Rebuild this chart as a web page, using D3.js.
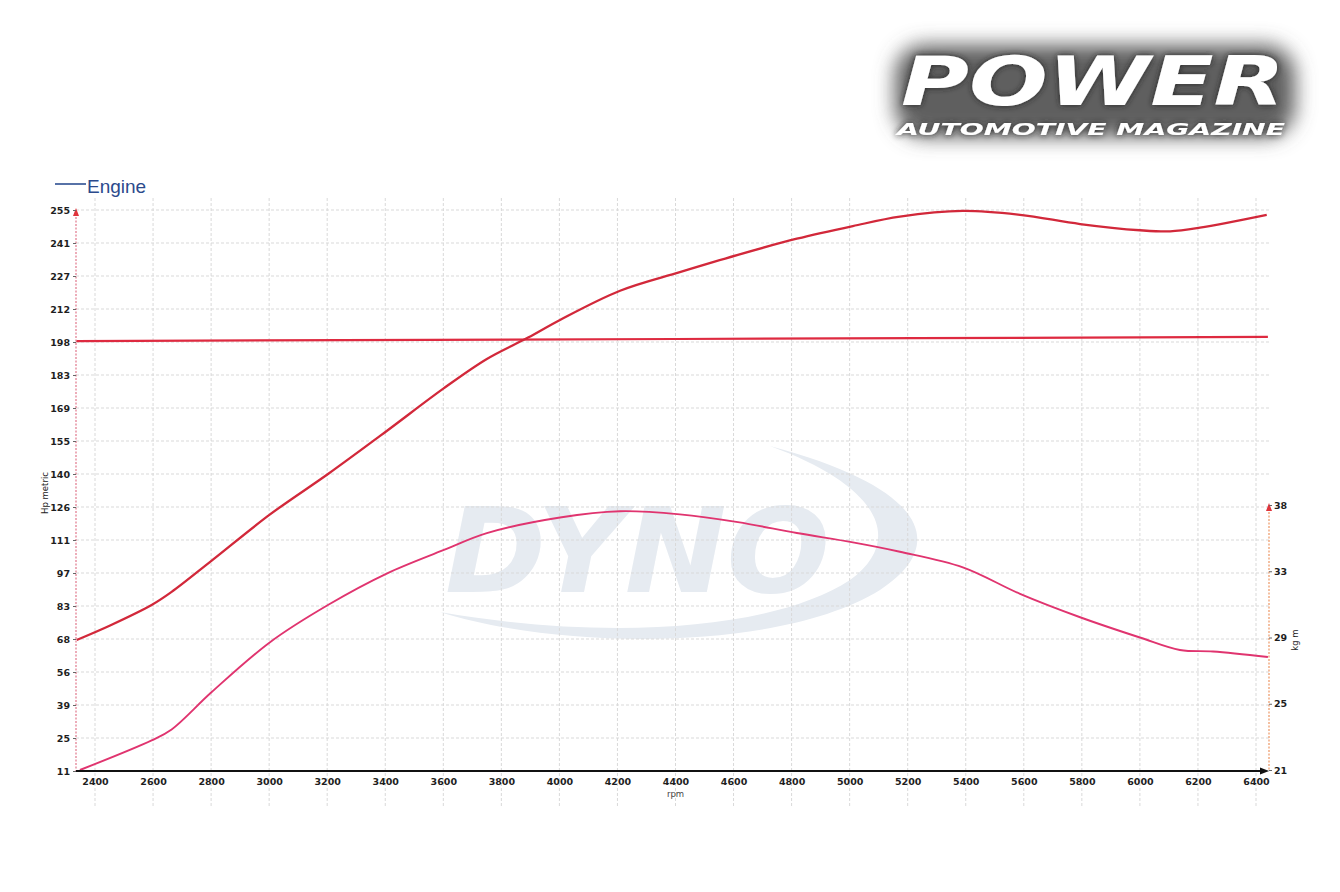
<!DOCTYPE html>
<html><head><meta charset="utf-8">
<script src="https://cdn.jsdelivr.net/npm/d3@7"></script>
<style>body{margin:0;background:#fff}svg{display:block}</style>
</head><body>
<svg id="c" width="1340" height="892"></svg>
<script>
// ---------------- DATA ----------------
const rpmTicks = [2400,2600,2800,3000,3200,3400,3600,3800,4000,4200,4400,4600,4800,5000,5200,5400,5600,5800,6000,6200,6400];
const hpTickLabels = ["11","25","39","56","68","83","97","111","126","140","155","169","183","198","212","227","241","255"];
const kgmTickLabels = ["21","25","29","33","38"];

const powerRpm = [2337,2452,2595,2664,2802,3003,3204,3405,3600,3750,3892,4002,4209,4415,4615,4818,5011,5173,5390,5587,5794,6000,6104,6207,6437];
const powerHp  = [68.0,74.3,83.2,88.9,102.5,122.6,140.3,158.9,177.3,190.2,199.5,207.2,219.9,228.0,235.5,242.5,248.0,252.1,254.6,252.9,248.9,246.2,245.7,247.3,252.9];

const torqueRpm = [2348,2595,2664,2802,3003,3204,3405,3600,3750,4002,4209,4415,4615,4818,5011,5173,5390,5587,5794,6000,6138,6252,6441];
const torqueKgm = [21.0,22.9,23.6,26.0,29.2,31.6,33.6,35.1,36.2,37.2,37.6,37.4,36.9,36.2,35.6,35.0,34.0,32.3,30.8,29.5,28.7,28.6,28.25];

const refRpm = [2335,4400,6441];
const refHp  = [198.0,198.9,199.8];

const legendLabel = "Engine";

// ---------------- LAYOUT ----------------
const svg = d3.select("#c");
const L = 76, R = 1269, T = 210, B = 771, RT = 505;

const x = d3.scaleLinear().domain([2400, 6400]).range([95, 1256]);
const yHp = d3.scaleLinear().domain([11, 255]).range([B, T]);
const yKgm = d3.scaleLinear().domain([21, 38]).range([B - 1, RT]);
const yHpTicks = d3.scalePoint().domain(hpTickLabels).range([B, T]);
const yKgmTicks = d3.scalePoint().domain(kgmTickLabels).range([B - 1, RT]);

const defs = svg.append("defs");
const blur = defs.append("filter").attr("id","blur").attr("x","-30%").attr("y","-60%").attr("width","160%").attr("height","220%");
blur.append("feGaussianBlur").attr("stdDeviation", 10);
const sh = defs.append("filter").attr("id","shadow").attr("x","-10%").attr("y","-40%").attr("width","120%").attr("height","180%");
sh.append("feGaussianBlur").attr("in","SourceAlpha").attr("stdDeviation",3).attr("result","b");
sh.append("feFlood").attr("flood-color","#222").attr("result","f");
sh.append("feComposite").attr("in","f").attr("in2","b").attr("operator","in").attr("result","s");
const mg = sh.append("feMerge");
mg.append("feMergeNode").attr("in","s");
mg.append("feMergeNode").attr("in","SourceGraphic");

// ---------------- LOGO ----------------
const logo = svg.append("g");
logo.append("rect").attr("x", 895).attr("y", 45).attr("width", 400).attr("height", 92).attr("rx", 30)
  .attr("fill", "#5e5e5e").attr("filter", "url(#blur)");
logo.append("text").attr("x", 901).attr("y", 105).attr("textLength", 384).attr("lengthAdjust","spacingAndGlyphs")
  .attr("font-family", "DejaVu Sans").attr("font-weight", "bold").attr("font-style", "italic")
  .attr("font-size", 67).attr("fill", "#ffffff").attr("filter","url(#shadow)").text("POWER");
logo.append("text").attr("x", 897).attr("y", 135).attr("textLength", 388).attr("lengthAdjust","spacingAndGlyphs")
  .attr("font-family", "DejaVu Sans").attr("font-weight", "bold").attr("font-style", "italic")
  .attr("font-size", 16.5).attr("fill", "#ffffff").attr("filter","url(#shadow)").text("AUTOMOTIVE MAGAZINE");

// ---------------- WATERMARK ----------------
const wm = svg.append("g").attr("fill", "#e6ebf1");
wm.append("path").attr("d",
  "M440,612 C560,650 780,652 880,590 C945,548 935,490 770,446 C880,486 905,540 850,580 C770,632 600,640 440,612 Z");
wm.append("text").attr("x", 445).attr("y", 592).attr("textLength", 385).attr("lengthAdjust","spacingAndGlyphs")
  .attr("font-family", "DejaVu Sans").attr("font-weight", "bold").attr("font-style", "italic")
  .attr("font-size", 118).text("DYNO");

// ---------------- GRID ----------------
const grid = svg.append("g").attr("stroke", "#d9d9d9").attr("stroke-width", 1).attr("stroke-dasharray", "3,2");
grid.selectAll("line.h").data(hpTickLabels).join("line")
  .attr("x1", L).attr("x2", R).attr("y1", d => yHpTicks(d)).attr("y2", d => yHpTicks(d));
grid.selectAll("line.v").data(rpmTicks).join("line")
  .attr("x1", d => x(d)).attr("x2", d => x(d)).attr("y1", 198).attr("y2", 806);

// ---------------- CURVES ----------------
const lineGen = (ys) => d3.line().x(d => x(d[0])).y(d => ys(d[1])).curve(d3.curveCatmullRom.alpha(0.5));
svg.append("path").datum(d3.zip(refRpm, refHp)).attr("d", lineGen(yHp))
  .attr("fill","none").attr("stroke","#de2a40").attr("stroke-width",2.2);
svg.append("path").datum(d3.zip(powerRpm, powerHp)).attr("d", lineGen(yHp))
  .attr("fill","none").attr("stroke","#d2283a").attr("stroke-width",2.3);
svg.append("path").datum(d3.zip(torqueRpm, torqueKgm)).attr("d", lineGen(yKgm))
  .attr("fill","none").attr("stroke","#e0346f").attr("stroke-width",1.9);

// ---------------- AXES ----------------
const tickFont = g => g.selectAll("text").attr("font-family","DejaVu Sans").attr("font-weight","bold")
  .attr("font-size", 9.5).attr("fill","#1e1e1e");

// left axis
svg.append("line").attr("x1", L).attr("x2", L).attr("y1", T).attr("y2", B)
  .attr("stroke","#e58a9c").attr("stroke-width",1.4).attr("stroke-dasharray","2,1.5");
svg.append("path").attr("d", `M${L-3},${T+6}L${L},${T-2}L${L+3},${T+6}Z`).attr("fill","#e0343c");
const gl = svg.append("g").attr("transform", `translate(${L},0)`)
  .call(d3.axisLeft(yHpTicks).tickSize(3).tickPadding(3));
gl.select(".domain").remove();
gl.selectAll(".tick line").attr("stroke","#666");
tickFont(gl);

// bottom axis
svg.append("line").attr("x1", L).attr("x2", R - 4).attr("y1", B).attr("y2", B)
  .attr("stroke","#111").attr("stroke-width",2);
svg.append("path").attr("d", `M${R-9},${B-3.5}L${R},${B}L${R-9},${B+3.5}Z`).attr("fill","#111");
const gb = svg.append("g").attr("transform", `translate(0,${B})`)
  .call(d3.axisBottom(x).tickValues(rpmTicks).tickSize(0).tickPadding(7).tickFormat(d3.format("d")));
gb.select(".domain").remove();
tickFont(gb);
svg.append("text").attr("x", x(4400)).attr("y", 797).attr("text-anchor","middle")
  .attr("font-family","DejaVu Sans").attr("font-size",8.5).attr("fill","#444").text("rpm");

// right axis
svg.append("line").attr("x1", R).attr("x2", R).attr("y1", RT).attr("y2", B)
  .attr("stroke","#f0a57a").attr("stroke-width",1.4).attr("stroke-dasharray","2,1.5");
svg.append("path").attr("d", `M${R-3},${RT+6}L${R},${RT-2}L${R+3},${RT+6}Z`).attr("fill","#e0343c");
const gr = svg.append("g").attr("transform", `translate(${R},0)`)
  .call(d3.axisRight(yKgmTicks).tickSize(3).tickPadding(2));
gr.select(".domain").remove();
gr.selectAll(".tick line").attr("stroke","#666");
tickFont(gr);

// axis titles
svg.append("text").attr("transform","translate(48,493) rotate(-90)").attr("text-anchor","middle")
  .attr("font-family","DejaVu Sans").attr("font-size",8.5).attr("fill","#222").text("Hp metric");
svg.append("text").attr("transform","translate(1298,640) rotate(-90)").attr("text-anchor","middle")
  .attr("font-family","DejaVu Sans").attr("font-size",8.5).attr("fill","#222").text("kg m");

// legend
svg.append("line").attr("x1", 55).attr("x2", 86).attr("y1", 184).attr("y2", 184)
  .attr("stroke","#2d4f92").attr("stroke-width",1.6);
svg.append("text").attr("x", 87).attr("y", 193)
  .attr("font-family","Liberation Sans").attr("font-size",19).attr("fill","#2b4a8c").text(legendLabel);
</script>
</body></html>
